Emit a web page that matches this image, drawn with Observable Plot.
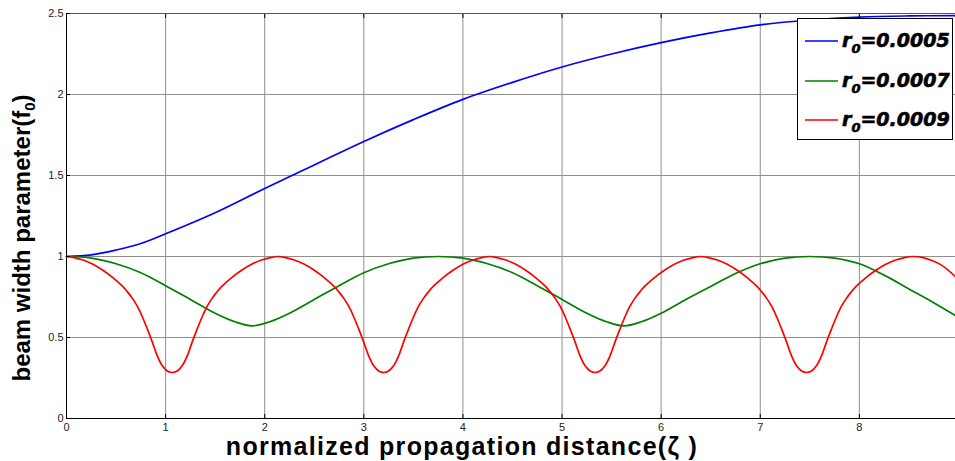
<!DOCTYPE html>
<html>
<head>
<meta charset="utf-8">
<script src="https://cdn.jsdelivr.net/npm/d3@7"></script>
<script src="https://cdn.jsdelivr.net/npm/@observablehq/plot@0.6"></script>
<style>
  html, body { margin: 0; padding: 0; background: white; }
  #wrap { position: relative; width: 955px; height: 461px; overflow: hidden; }
  .lab { position: absolute; white-space: nowrap; font-family: "Liberation Sans", Arial, sans-serif; font-weight: bold; color: #000; line-height: 1; }
  .sub { font-size: 0.62em; position: relative; top: 0.35em; }
  #legend { position: absolute; left: 797px; top: 18px; width: 156px; height: 122px; border: 1px solid #000; background: #fff; box-sizing: border-box; }
  .lrow { position: absolute; left: 0; height: 30px; width: 156px; }
  .ltxt { position: absolute; left: 44px; top: 2px; font-family: "DejaVu Sans", sans-serif; font-weight: bold; font-style: italic; font-size: 19px; color: #000; white-space: nowrap; -webkit-text-stroke: 0.6px #000; }
  .ltxt .s { font-size: 13px; position: relative; top: 6px; }
</style>
</head>
<body>
<div id="wrap"></div>
<script>
// ---- data ----
const xTicks = [0, 1, 2, 3, 4, 5, 6, 7, 8];
const yTicks = [0, 0.5, 1, 1.5, 2, 2.5];
const seriesNames = ["0.0005", "0.0007", "0.0009"];
const seriesColors = ["#0000ff", "#008000", "#ff0000"];

const blueX = [0, 0.25, 0.5, 0.75, 1, 1.5, 2, 2.5, 3, 3.5, 4, 4.5, 5, 5.5, 6, 6.5, 7, 7.5, 8, 8.5, 8.97];
const blueY = [1.0, 1.01, 1.04, 1.08, 1.14, 1.27, 1.42, 1.565, 1.71, 1.845, 1.97, 2.075, 2.17, 2.25, 2.32, 2.38, 2.43, 2.46, 2.478, 2.485, 2.487];

const greenX = [0, 0.25, 0.5, 0.75, 1.0, 1.25, 1.5, 1.7, 1.875, 2.05, 2.25, 2.5, 2.75, 3.0, 3.25, 3.5, 3.75, 4.0, 4.25, 4.5, 4.75, 5.0, 5.25, 5.45, 5.625, 5.8, 6.0, 6.25, 6.5, 6.75, 7.0, 7.25, 7.5, 7.75, 8.0, 8.25, 8.5, 8.75, 8.97];
const greenY = [1.0, 0.99, 0.955, 0.9, 0.82, 0.735, 0.65, 0.597, 0.572, 0.597, 0.65, 0.735, 0.82, 0.9, 0.955, 0.99, 1.0, 0.99, 0.955, 0.9, 0.82, 0.735, 0.65, 0.597, 0.572, 0.597, 0.65, 0.735, 0.815, 0.895, 0.955, 0.99, 1.0, 0.99, 0.955, 0.885, 0.8, 0.715, 0.635];

const redX = [
  0, 0.067, 0.167, 0.267, 0.367, 0.467, 0.567, 0.617, 0.667, 0.717, 0.767, 0.817, 0.867, 0.917, 0.967, 1.017,
  1.067, 1.117, 1.167, 1.217, 1.267, 1.317, 1.367, 1.417, 1.467, 1.517, 1.567, 1.667, 1.767, 1.867, 1.967, 2.067,
  2.133, 2.2, 2.3, 2.4, 2.5, 2.6, 2.7, 2.75, 2.8, 2.85, 2.9, 2.95, 3.0, 3.05, 3.1, 3.15,
  3.2, 3.25, 3.3, 3.35, 3.4, 3.45, 3.5, 3.55, 3.6, 3.65, 3.7, 3.8, 3.9, 4.0, 4.1, 4.2,
  4.267, 4.333, 4.433, 4.533, 4.633, 4.733, 4.833, 4.883, 4.933, 4.983, 5.033, 5.083, 5.133, 5.183, 5.233, 5.283,
  5.333, 5.383, 5.433, 5.483, 5.533, 5.583, 5.633, 5.683, 5.733, 5.783, 5.833, 5.933, 6.033, 6.133, 6.233, 6.333,
  6.4, 6.467, 6.567, 6.667, 6.767, 6.867, 6.967, 7.017, 7.067, 7.117, 7.167, 7.217, 7.267, 7.317, 7.367, 7.417,
  7.467, 7.517, 7.567, 7.617, 7.667, 7.717, 7.767, 7.817, 7.867, 7.917, 7.967, 8.067, 8.167, 8.267, 8.367, 8.467,
  8.533, 8.633, 8.733, 8.833, 8.97];
const redY = [
  1.0, 0.995, 0.978, 0.952, 0.915, 0.87, 0.815, 0.78, 0.74, 0.69, 0.625, 0.55, 0.47, 0.385, 0.325, 0.293,
  0.284, 0.293, 0.325, 0.385, 0.47, 0.55, 0.625, 0.69, 0.74, 0.78, 0.815, 0.87, 0.915, 0.952, 0.978, 0.995,
  1.0, 0.995, 0.978, 0.952, 0.915, 0.87, 0.815, 0.78, 0.74, 0.69, 0.625, 0.55, 0.47, 0.385, 0.325, 0.293,
  0.284, 0.293, 0.325, 0.385, 0.47, 0.55, 0.625, 0.69, 0.74, 0.78, 0.815, 0.87, 0.915, 0.952, 0.978, 0.995,
  1.0, 0.995, 0.978, 0.952, 0.915, 0.87, 0.815, 0.78, 0.74, 0.69, 0.625, 0.55, 0.47, 0.385, 0.325, 0.293,
  0.284, 0.293, 0.325, 0.385, 0.47, 0.55, 0.625, 0.69, 0.74, 0.78, 0.815, 0.87, 0.915, 0.952, 0.978, 0.995,
  1.0, 0.995, 0.978, 0.952, 0.915, 0.87, 0.815, 0.78, 0.74, 0.69, 0.625, 0.55, 0.47, 0.385, 0.325, 0.293,
  0.284, 0.293, 0.325, 0.385, 0.47, 0.55, 0.625, 0.69, 0.74, 0.78, 0.815, 0.87, 0.915, 0.952, 0.978, 0.995,
  1.0, 0.995, 0.975, 0.945, 0.875];

const toRows = (xs, ys) => xs.map((x, i) => ({x, y: ys[i]}));
const series = [toRows(blueX, blueY), toRows(greenX, greenY), toRows(redX, redY)];

const chart = Plot.plot({
  width: 955,
  height: 461,
  marginLeft: 66,
  marginRight: 0,
  marginTop: 13,
  marginBottom: 43,
  x: {domain: [0, 8.97]},
  y: {domain: [0, 2.5]},
  style: {fontFamily: "'Liberation Sans', Arial, sans-serif", fontSize: "11px", background: "white", color: "#222"},
  marks: [
    Plot.gridX(xTicks, {stroke: "#8f8f8f", strokeOpacity: 1}),
    Plot.gridY(yTicks, {stroke: "#8f8f8f", strokeOpacity: 1}),
    Plot.ruleX([0], {stroke: "#000"}),
    Plot.ruleY([0], {stroke: "#000"}),
    Plot.ruleY([2.5], {stroke: "#555"}),
    ...series.map((d, i) => Plot.line(d, {x: "x", y: "y", stroke: seriesColors[i], strokeWidth: 1.7, curve: "catmull-rom"})),
    Plot.axisX(xTicks, {anchor: "bottom", tickSize: -4, tickPadding: 9, label: null, tickFormat: d => String(d), stroke: "#000"}),
    Plot.axisX(xTicks, {anchor: "top", tickSize: -4, label: null, tickFormat: () => "", stroke: "#000"}),
    Plot.axisY(yTicks, {anchor: "left", tickSize: -4, tickPadding: 7, label: null, tickFormat: d => String(d), stroke: "#000"})
  ]
});

const wrap = document.getElementById("wrap");
wrap.appendChild(chart);

// axis labels
const yl = document.createElement("div");
yl.className = "lab";
yl.style.cssText = "left:22px;top:238px;font-size:24px;transform:translate(-50%,-50%) rotate(-90deg);";
yl.innerHTML = 'beam width parameter(f<span class="sub">0</span>)';
wrap.appendChild(yl);

const xl = document.createElement("div");
xl.className = "lab";
xl.style.cssText = "left:462px;top:446px;font-size:25px;letter-spacing:1.3px;transform:translate(-50%,-50%);";
xl.textContent = "normalized propagation distance(\u03B6 )";
wrap.appendChild(xl);

// legend
const lg = document.createElement("div");
lg.id = "legend";
const rowTops = [8, 48, 87];
seriesNames.forEach((name, i) => {
  const row = document.createElement("div");
  row.className = "lrow";
  row.style.top = rowTops[i] + "px";
  row.innerHTML = `<svg width="40" height="30" style="position:absolute;left:0;top:0"><line x1="7" x2="41" y1="14" y2="14" stroke="${seriesColors[i]}" stroke-width="1.6"/></svg>` +
    `<span class="ltxt">r<span class="s">0</span>=${name}</span>`;
  lg.appendChild(row);
});
wrap.appendChild(lg);
</script>
</body>
</html>
